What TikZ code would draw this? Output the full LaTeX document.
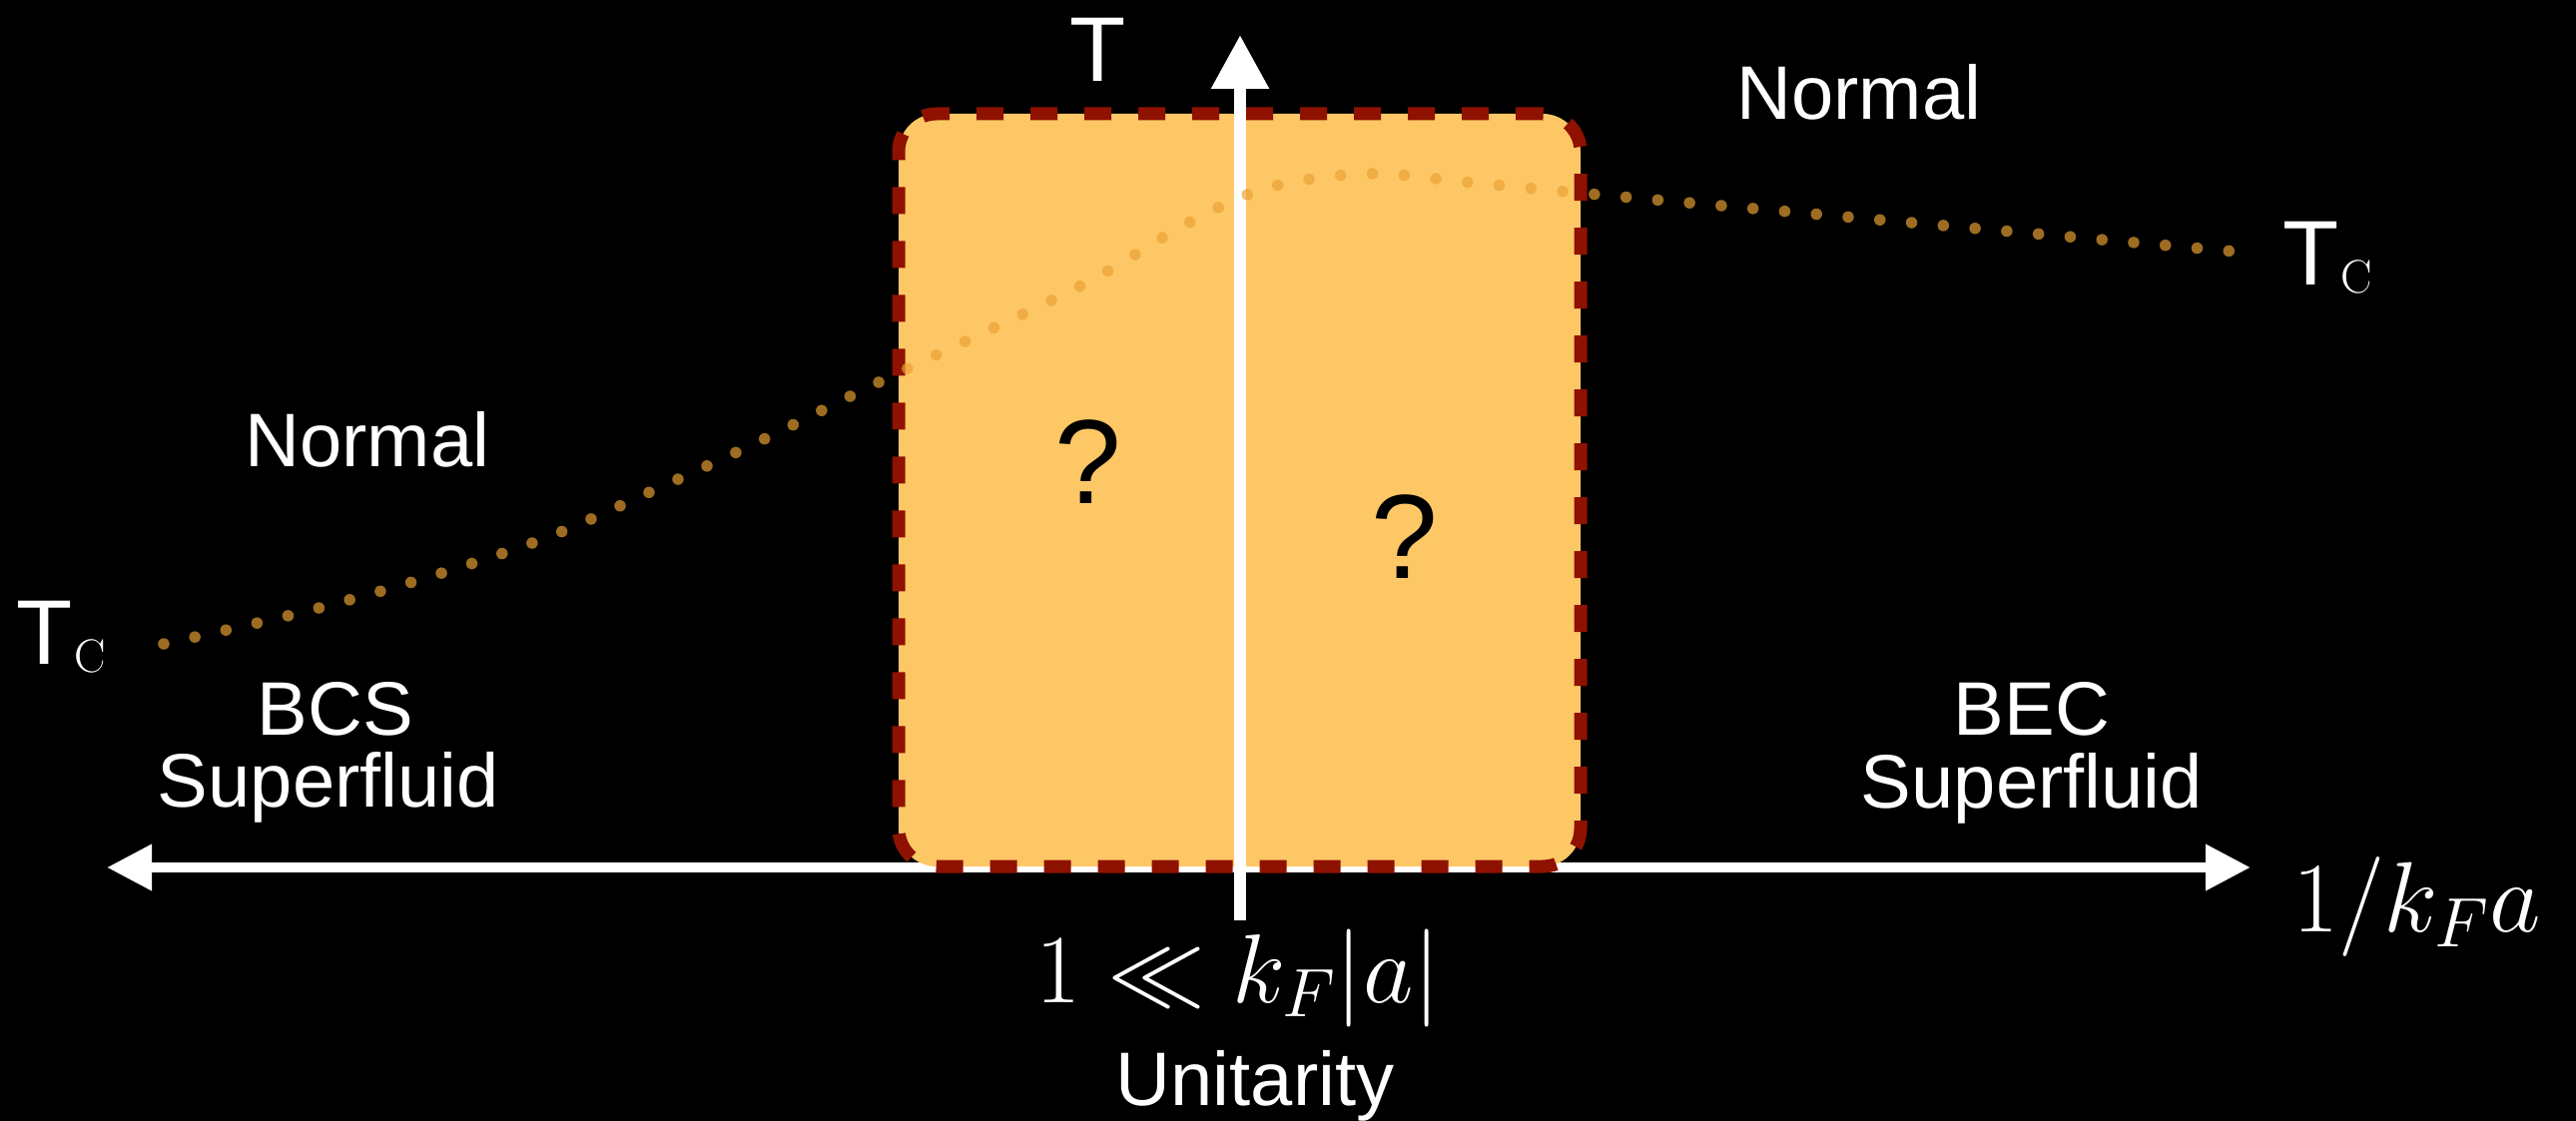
\RequirePackage{fix-cm}
\documentclass[tikz,border=0pt]{standalone}
\usepackage{fontspec}
\newfontfamily\hv{Liberation Sans}
\usetikzlibrary{arrows.meta}
\definecolor{boxfill}{RGB}{254,199,102}
\definecolor{boxedge}{RGB}{143,17,0}
\definecolor{tccol}{RGB}{234,161,51}
\begin{document}
\begin{tikzpicture}[x=1pt,y=-1pt,
  lbl/.style={text=white,inner sep=0pt,anchor=base,font=\hv\fontsize{76}{88}\selectfont},
  qmark/.style={text=black,inner sep=0pt,anchor=base,font=\hv\fontsize{120}{120}\selectfont},
  axisline/.style={white,line width=#1}]
\fill[black] (0,0) rectangle (2580,1123);
\useasboundingbox (0,0) rectangle (2580,1123);
% horizontal axis
\coordinate (hl) at (107,869);
\coordinate (hr) at (2254,869);
\draw[axisline=10pt,{Triangle[length=45pt,width=44pt]}-{Triangle[length=45pt,width=44pt]}] (hl) -- (hr);
% unitarity box
\node[draw=boxedge,fill=boxfill,line width=13pt,dash pattern=on 27pt off 27pt,
      rounded corners=38pt,minimum width=683pt,minimum height=754pt,inner sep=0pt]
      (box) at (1241.5,491) {};
% vertical axis
\coordinate (vb) at (1242,922);
\coordinate (vt) at (1242,35);
\draw[axisline=12pt,-{Triangle[length=54pt,width=55pt]}] (vb) -- (vt);
% Tc curve
\draw[tccol,opacity=0.68,line width=11.5pt,line cap=round,dash pattern=on 0pt off 31.9pt]
  plot[smooth,tension=0.55] coordinates {(164,645) (296,615) (423,580) (549,538) (666,486) (765,440) (880,383) (1081,287) (1187,225) (1270,188) (1370,174) (1474,183) (1601,195) (2239,252)};
% labels
\node[lbl,font=\hv\fontsize{92}{92}\selectfont] (T) at (1100,82) {T};
\node[lbl] (nR) at (1862,120) {Normal};
\node[lbl] (nL) at (368,467) {Normal};
\node[lbl] (bcs1) at (336,736) {BCS};
\node[lbl] (bcs2) at (329,808) {Superfluid};
\node[lbl] (bec1) at (2035,736) {BEC};
\node[lbl] (bec2) at (2035,809) {Superfluid};
\node[qmark] (q1) at (1090,504) {?};
\node[qmark] (q2) at (1407,579) {?};
\node[text=white,inner sep=0pt,anchor=base west] (tcR) at (2286,286)
  {\hv\fontsize{92}{92}\selectfont T\hspace{2pt}\raisebox{-8pt}{\rmfamily\fontsize{47}{47}\selectfont C}};
\node[text=white,inner sep=0pt,anchor=base west] (tcL) at (16,665)
  {\hv\fontsize{92}{92}\selectfont T\hspace{2pt}\raisebox{-8pt}{\rmfamily\fontsize{47}{47}\selectfont C}};
\node[text=white,inner sep=0pt,anchor=base] (cond) at (1240,1004)
  {\fontsize{98}{110}\selectfont$1\ll k_F|a|$};
\node[lbl] (unit) at (1257,1107) {Unitarity};
\node[text=white,inner sep=0pt,anchor=base west] (xlab) at (2296,933)
  {\fontsize{100}{110}\selectfont$1/k_Fa$};
\end{tikzpicture}
\end{document}
